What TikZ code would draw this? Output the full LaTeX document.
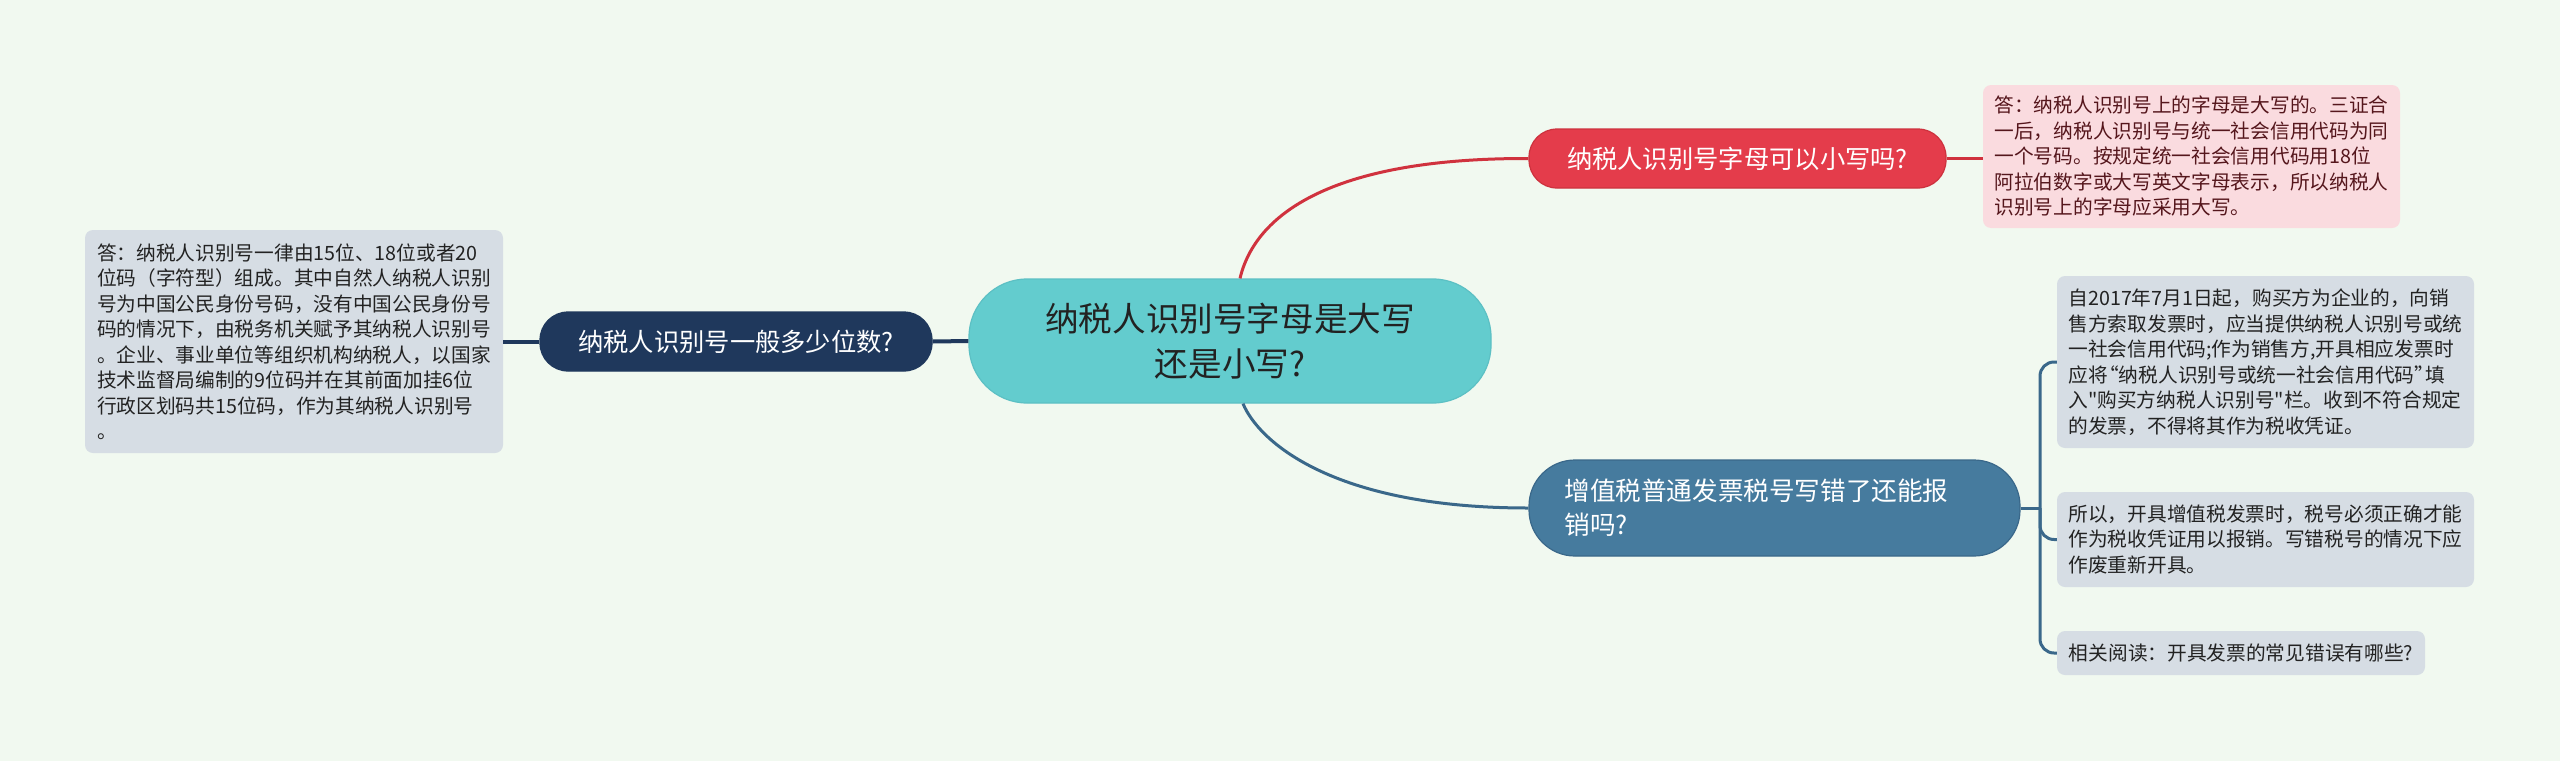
\documentclass[tikz,border=0pt]{standalone}
\usepackage{fontspec}
\setmainfont{Noto Sans CJK SC}[Ligatures=TeXOff]
\definecolor{bg}{RGB}{241,249,240}
\definecolor{teal}{RGB}{99,204,206}
\definecolor{tealb}{RGB}{92,192,196}
\definecolor{redn}{RGB}{228,60,75}
\definecolor{rednb}{RGB}{205,50,62}
\definecolor{redl}{RGB}{208,50,62}
\definecolor{pinkbox}{RGB}{250,219,223}
\definecolor{pinktxt}{RGB}{85,22,28}
\definecolor{navy}{RGB}{31,56,92}
\definecolor{steel}{RGB}{70,123,158}
\definecolor{steell}{RGB}{58,104,138}
\definecolor{graybox}{RGB}{214,221,228}
\definecolor{darktxt}{RGB}{34,34,34}
\newcommand{\myoq}{\makebox[11pt][r]{“}}
\newcommand{\mycq}{\makebox[11pt][l]{”}}
\begin{document}
\begin{tikzpicture}[x=1pt,y=-1pt,
  pill/.style={draw, line width=1.2pt, inner sep=0pt, align=center},
  note/.style={rounded corners=8pt, align=left, inner xsep=11pt, inner ysep=0pt,
    font=\fontsize{19.7}{25.5}\selectfont},
  redline/.style={draw=redl, line width=3pt},
  blueline/.style={draw=steell, line width=3pt},
  navyline/.style={draw=navy, line width=4pt}]
\useasboundingbox[fill=bg] (0,0) rectangle (2560,761);

% central
\node[pill, fill=teal, draw=tealb, rounded corners=58pt, minimum width=522pt, minimum height=124pt,
  text=darktxt, font=\fontsize{33.6}{45}\selectfont] (c) at (1230,341)
  {纳税人识别号字母是大写\\还是小写?};

% red branch
\node[pill, fill=redn, draw=rednb, rounded corners=28pt, minimum width=417pt, minimum height=59pt,
  text=white, font=\fontsize{25.3}{33}\selectfont] (r) at (1737.5,158.5)
  {纳税人识别号字母可以小写吗?};
\node[note, fill=pinkbox, text=pinktxt, minimum width=417pt, minimum height=143pt] (rn) at (2191.5,156.5)
  {答：纳税人识别号上的字母是大写的。三证合\\
   一后，纳税人识别号与统一社会信用代码为同\\
   一个号码。按规定统一社会信用代码用18位\\
   阿拉伯数字或大写英文字母表示，所以纳税人\\
   识别号上的字母应采用大写。};

% navy branch
\node[pill, fill=navy, draw=navy, rounded corners=28pt, minimum width=392pt, minimum height=59pt,
  text=white, font=\fontsize{25.3}{33}\selectfont] (n) at (736,341.5)
  {纳税人识别号一般多少位数?};
\node[note, fill=graybox, text=darktxt, minimum width=418pt, minimum height=223pt] (l) at (294,341.5)
  {答：纳税人识别号一律由15位、18位或者20\\
   位码（字符型）组成。其中自然人纳税人识别\\
   号为中国公民身份号码，没有中国公民身份号\\
   码的情况下，由税务机关赋予其纳税人识别号\\
   。企业、事业单位等组织机构纳税人，以国家\\
   技术监督局编制的9位码并在其前面加挂6位\\
   行政区划码共15位码，作为其纳税人识别号\\
   。};

% steel branch
\node[pill, fill=steel, draw=steell, rounded corners=46pt, minimum width=491pt, minimum height=96pt,
  text=white, font=\fontsize{25.6}{33.7}\selectfont] (b) at (1774.5,508)
  {\begin{minipage}{420pt}增值税普通发票税号写错了还能报\\销吗?\end{minipage}};
\node[note, fill=graybox, text=darktxt, minimum width=417pt, minimum height=172pt] (r1) at (2265.5,362)
  {自2017年7月1日起，购买方为企业的，向销\\
   售方索取发票时，应当提供纳税人识别号或统\\
   一社会信用代码;作为销售方,开具相应发票时\\
   应将\myoq 纳税人识别号或统一社会信用代码\mycq 填\\
   入"购买方纳税人识别号"栏。收到不符合规定\\
   的发票，不得将其作为税收凭证。};
\node[note, fill=graybox, text=darktxt, minimum width=417pt, minimum height=95pt] (r2) at (2265.5,539.5)
  {所以，开具增值税发票时，税号必须正确才能\\
   作为税收凭证用以报销。写错税号的情况下应\\
   作废重新开具。};
\node[note, fill=graybox, text=darktxt, minimum width=368pt, minimum height=44pt] (r3) at (2241,653)
  {相关阅读：开具发票的常见错误有哪些?};

% connectors
\draw[redline] ([xshift=10pt]c.north) .. controls (1255,215) and (1330,158) .. (r.west);
\draw[redline] (r.east) -- (r.east -| rn.west);
\draw[blueline] ([xshift=13pt]c.south) .. controls (1258,440) and (1330,508) .. (b.west);
\draw[navyline] (c.west) -- (n.east);
\draw[navyline] (n.west) -- (l.east);
\coordinate (j) at (2040,508);
\draw[blueline] (b.east) -- (j);
\draw[blueline, rounded corners=14pt] (j) |- (r1.west);
\draw[blueline, rounded corners=14pt] (j) |- (r2.west);
\draw[blueline, rounded corners=14pt] (j) |- (r3.west);
\end{tikzpicture}
\end{document}
